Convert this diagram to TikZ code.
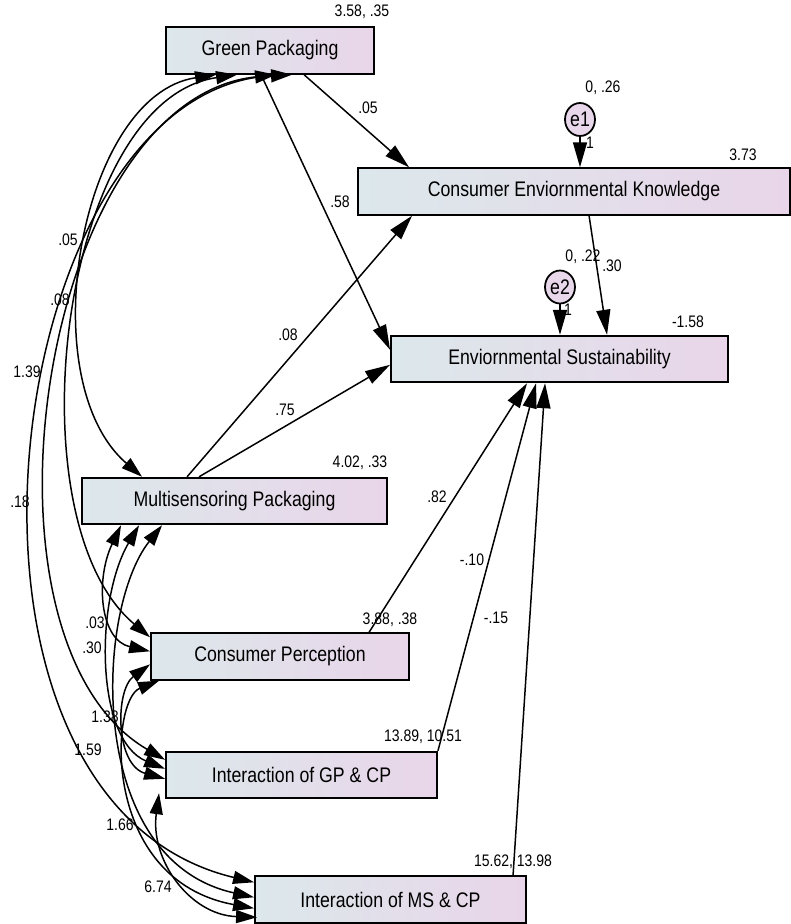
\documentclass[tikz,border=0pt]{standalone}
\usepackage{fontspec}
\setmainfont[FakeStretch=0.84]{Liberation Sans}
\usetikzlibrary{arrows.meta, calc, positioning, shapes.geometric}

\definecolor{boxleft}{RGB}{220,232,235}
\definecolor{boxright}{RGB}{233,213,233}
\definecolor{errfill}{RGB}{232,214,234}

\begin{document}
\begin{tikzpicture}[x=0.02cm, y=-0.02cm,
  box/.style={draw, line width=1.1pt, left color=boxleft, right color=boxright, minimum height=0.93cm, inner sep=0pt, font=\fontsize{12}{14}\selectfont},
  errc/.style={draw, ellipse, line width=1pt, fill=errfill, minimum width=0.6cm, minimum height=0.66cm, inner sep=0pt, font=\fontsize{12}{14}\selectfont},
  lbl/.style={inner sep=0pt, font=\fontsize{9.5}{11}\selectfont},
  pth/.style={line width=0.85pt, -{Triangle[length=5mm,width=2.8mm]}},
  cov/.style={line width=0.85pt, {Triangle[length=4.2mm,width=2.6mm]}-{Triangle[length=4.2mm,width=2.6mm]}}]
\useasboundingbox (0,0) rectangle (791,924);

% observed variables
\node[box, minimum width=4.16cm] (gp) at (270,50.5) {Green Packaging};
\node[box, minimum width=8.64cm] (cek) at (574,191.5) {Consumer Enviornmental Knowledge};
\node[box, minimum width=6.74cm] (es) at (559.5,359) {Enviornmental Sustainability};
\node[box, minimum width=6.1cm] (mp) at (234.5,501) {Multisensoring Packaging};
\node[box, minimum width=5.16cm] (cp) at (280,656.5) {Consumer Perception};
\node[box, minimum width=5.42cm] (igp) at (301.5,775) {Interaction of GP \& CP};
\node[box, minimum width=5.42cm] (ims) at (390.5,899.5) {Interaction of MS \& CP};

% error terms
\node[errc] (e1) at (580,119.5) {e1};
\node[errc] (e2) at (560,287) {e2};

% means and variances
\node[lbl] (gpv) at (362,12) {3.58, .35};
\node[lbl] (cekv) at (743,155) {3.73};
\node[lbl] (e1v) at (603,88) {0, .26};
\node[lbl] (e2v) at (583,257) {0, .22};
\node[lbl] (esv) at (688,322) {-1.58};
\node[lbl] (mpv) at (360,463) {4.02, .33};
\node[lbl] (cpv) at (390,620) {3.88, .38};
\node[lbl] (igpv) at (423,737) {13.89, 10.51};
\node[lbl] (imsv) at (513,862) {15.62, 13.98};

% regression paths
\draw[pth] (e1) -- (e1 |- cek.north);
\draw[pth] (e2) -- (e2 |- es.north);
\draw[pth] ($(gp.south west)+(139,0)$) -- ($(cek.north west)+(52,0)$);
\draw[pth] ($(gp.south west)+(96,0)$) -- ($(es.north west)+(0,15)$);
\draw[pth] ($(mp.north west)+(106,0)$) -- ($(cek.south west)+(55,0)$);
\draw[pth] ($(mp.north west)+(118,0)$) -- ($(es.north west)+(0,30)$);
\draw[pth] ($(cek.south west)+(232,0)$) -- ($(es.north west)+(217,0)$);
\draw[pth] ($(cp.north west)+(219,0)$) -- ($(es.south west)+(137,0)$);
\draw[pth] (igp.north east) -- ($(es.south west)+(146,0)$);
\draw[pth] ($(ims.north west)+(259,0)$) -- ($(es.south west)+(155,0)$);

\node[lbl] (w1) at (590,143) {1};
\node[lbl] (w2) at (568,310) {1};
\node[lbl] (gpcek) at (368,108) {.05};
\node[lbl] (gpes) at (340,202) {.58};
\node[lbl] (mpcek) at (288,335) {.08};
\node[lbl] (mpes) at (285,410) {.75};
\node[lbl] (cekes) at (612,266) {.30};
\node[lbl] (cpes) at (437,497) {.82};
\node[lbl] (igpes) at (472,560) {-.10};
\node[lbl] (imses) at (496,618) {-.15};

% covariances
\draw[cov] ($(gp.south west)+(51,0)$) .. controls (80,95) and (30,380) .. ($(mp.north west)+(61,0)$);
\draw[cov] ($(gp.south west)+(72,0)$) .. controls (60,100) and (10,520) .. ($(cp.north west)+(0,5)$);
\draw[cov] ($(gp.south west)+(111,0)$) .. controls (40,100) and (-40,640) .. ($(igp.north west)+(0,9)$);
\draw[cov] ($(gp.south west)+(127,0)$) .. controls (0,90) and (-90,800) .. ($(ims.north west)+(0,7)$);
\draw[cov] ($(mp.south west)+(40,0)$) .. controls (95,580) and (100,640) .. ($(cp.north west)+(0,19)$);
\draw[cov] ($(mp.south west)+(58,0)$) .. controls (95,600) and (95,740) .. ($(igp.north west)+(0,18)$);
\draw[cov] ($(mp.south west)+(81,0)$) .. controls (95,610) and (85,860) .. ($(ims.north west)+(0,22)$);
\draw[cov] ($(cp.north west)+(0,32)$) .. controls (115,690) and (115,765) .. ($(igp.north west)+(0,28)$);
\draw[cov] ($(cp.south west)+(9,0)$) .. controls (110,700) and (100,880) .. ($(ims.north west)+(0,33)$);
\draw[cov] ($(igp.south west)+(-6,-6)$) .. controls (150,860) and (190,915) .. ($(ims.north west)+(3,42)$);

\node[lbl] (c1) at (68,240) {.05};
\node[lbl] (c2) at (60,300) {.08};
\node[lbl] (c3) at (27,372) {1.39};
\node[lbl] (c4) at (20,502) {.18};
\node[lbl] (c5) at (95,623) {.03};
\node[lbl] (c6) at (92,648) {.30};
\node[lbl] (c7) at (105,717) {1.38};
\node[lbl] (c8) at (88,750) {1.59};
\node[lbl] (c9) at (120,825) {1.66};
\node[lbl] (c10) at (158,887) {6.74};
\end{tikzpicture}
\end{document}
